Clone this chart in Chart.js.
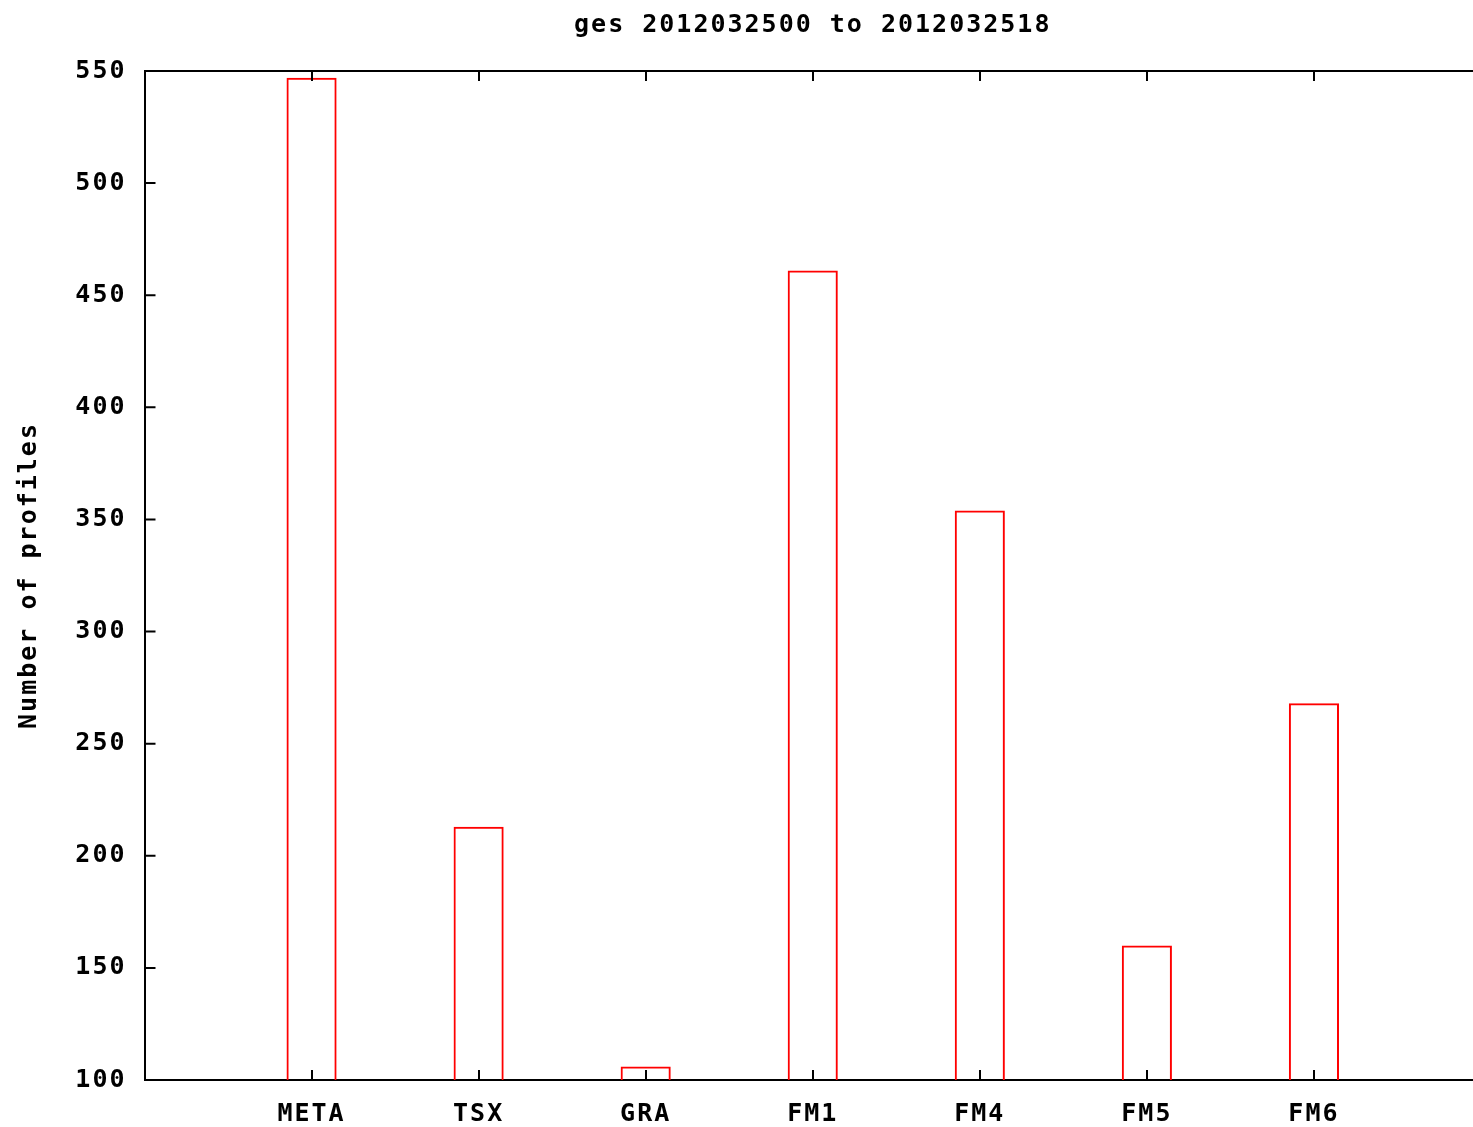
<!DOCTYPE html>
<html>
<head>
<meta charset="utf-8">
<script src="https://cdn.jsdelivr.net/npm/chart.js@4/dist/chart.umd.min.js"></script>
<style>
  html, body { margin: 0; padding: 0; background: #fff; overflow: hidden; }
  #wrap { position: absolute; left: 0; top: 0; width: 1500px; height: 1127px; }
</style>
</head>
<body>
<div id="wrap"><canvas id="c" width="1500" height="1127"></canvas></div>
<script>
const titleText = 'ges 2012032500 to 2012032518';
const yTitle = 'Number of profiles';
const categories = ['META', 'TSX', 'GRA', 'FM1', 'FM4', 'FM5', 'FM6'];
const counts = [547, 213, 106, 461, 354, 160, 268];
const yMin = 100, yMax = 550, yStep = 50;

const FONT = "'DejaVu Sans Mono', 'Liberation Mono', monospace";
const FSIZE = 25;
const SPACING = '2px';

const spacingPlugin = {
  id: 'spacing',
  beforeUpdate(chart) { chart.ctx.letterSpacing = SPACING; },
  beforeLayout(chart) { chart.ctx.letterSpacing = SPACING; },
  beforeDraw(chart) { chart.ctx.letterSpacing = SPACING; }
};

const frameTicks = {
  id: 'frameTicks',
  afterDatasetsDraw(chart) {
    const { ctx, chartArea: a, scales } = chart;
    ctx.save();
    ctx.strokeStyle = '#000';
    ctx.lineWidth = 2;
    ctx.beginPath();
    ctx.moveTo(a.left, a.top);
    ctx.lineTo(a.right, a.top);
    scales.y.ticks.forEach(t => {
      const py = scales.y.getPixelForValue(t.value);
      ctx.moveTo(a.left, py);
      ctx.lineTo(a.left + 11, py);
    });
    categories.forEach((c, i) => {
      const px = Math.round(scales.x.getPixelForValue(i + 1));
      ctx.moveTo(px, a.bottom);
      ctx.lineTo(px, a.bottom - 10);
      ctx.moveTo(px, a.top);
      ctx.lineTo(px, a.top + 10);
    });
    ctx.stroke();
    ctx.restore();
  }
};

new Chart(document.getElementById('c'), {
  type: 'bar',
  data: {
    datasets: [{
      data: counts.map((v, i) => ({ x: i + 1, y: v })),
      backgroundColor: 'rgba(255,255,255,0)',
      borderColor: '#ff0000',
      borderWidth: 2,
      borderSkipped: 'start',
      categoryPercentage: 1,
      barPercentage: 0.3
    }]
  },
  plugins: [spacingPlugin, frameTicks],
  options: {
    responsive: false,
    devicePixelRatio: 1,
    animation: false,
    layout: { padding: { left: 0, right: 12, top: 0, bottom: 0 } },
    plugins: {
      legend: { display: false },
      tooltip: { enabled: false },
      title: {
        display: true,
        fullSize: false,
        text: titleText,
        color: '#000',
        font: { family: FONT, size: FSIZE, weight: 'bold' },
        padding: { top: 10, bottom: 31 }
      }
    },
    scales: {
      x: {
        type: 'linear',
        offset: false,
        min: 0,
        max: categories.length + 1,
        grid: { display: false, drawTicks: false, offset: false },
        border: { display: true, color: '#000', width: 2 },
        ticks: {
          stepSize: 1,
          autoSkip: false,
          maxRotation: 0,
          padding: 19,
          color: '#000',
          font: { family: FONT, size: FSIZE, weight: 'bold' },
          callback: (v) => (v >= 1 && v <= categories.length) ? categories[v - 1] : ''
        },
        afterFit(s) { s.height = 47; }
      },
      y: {
        min: yMin,
        max: yMax,
        grid: { display: false, drawTicks: false },
        border: { display: true, color: '#000', width: 2 },
        ticks: {
          stepSize: yStep,
          padding: 18,
          color: '#000',
          font: { family: FONT, size: FSIZE, weight: 'bold' }
        },
        title: {
          display: true,
          text: yTitle,
          color: '#000',
          font: { family: FONT, size: FSIZE, weight: 'bold' },
          padding: { top: 14, bottom: 0 }
        },
        afterFit(s) { s.width = 144.5; }
      }
    }
  }
});
</script>
</body>
</html>
